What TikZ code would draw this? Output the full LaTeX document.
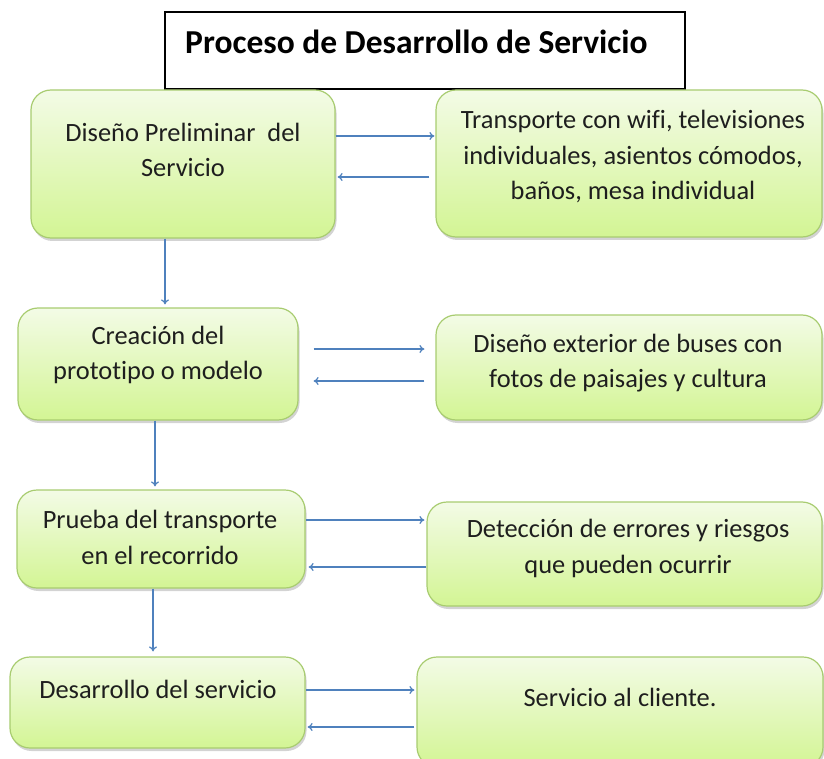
\documentclass[tikz,border=0pt]{standalone}
\usepackage{fontspec}
\setmainfont{Carlito}[Ligatures=NoCommon]
\usetikzlibrary{shadows,arrows.meta}
\definecolor{boxtop}{RGB}{243,251,230}
\definecolor{boxbot}{RGB}{211,245,148}
\definecolor{boxline}{RGB}{168,204,112}
\definecolor{arrblue}{RGB}{79,129,189}
\definecolor{txt}{RGB}{30,30,30}
\tikzset{
  gbox/.style={rectangle, rounded corners=20pt, draw=boxline, line width=1.2pt,
    top color=boxtop, bottom color=boxbot,
    drop shadow={shadow xshift=1.5pt, shadow yshift=-3pt, opacity=0.35},
    inner sep=0pt},
  btext/.style={align=center, text=txt, font=\fontsize{26.4}{35.5}\selectfont, inner sep=0pt},
  arr/.style={draw=arrblue, line width=1.2pt, -{To[length=5pt,width=8pt]}},
}
\begin{document}
\begin{tikzpicture}[x=1pt,y=-1pt]
\useasboundingbox (0,0) rectangle (824,759);
% title
\node[draw=black, line width=1.2pt, minimum width=520pt, minimum height=77pt, inner sep=0pt] (title) at (425,50.5) {};
\node[font=\bfseries\fontsize{33.5}{38}\selectfont, text=black, inner sep=0pt] (titletext) at (416.5,42) {Proceso de Desarrollo de Servicio};
% boxes
\node[gbox, minimum width=304pt, minimum height=148pt] (b1) at (183,164) {};
\node[gbox, minimum width=386pt, minimum height=147pt] (b2) at (629,163.5) {};
\node[gbox, minimum width=280pt, minimum height=112pt] (b3) at (158,364) {};
\node[gbox, minimum width=386pt, minimum height=105pt] (b4) at (629,367.5) {};
\node[gbox, minimum width=288pt, minimum height=98pt] (b5) at (161,539) {};
\node[gbox, minimum width=395pt, minimum height=104pt] (b6) at (624.5,554) {};
\node[gbox, minimum width=295pt, minimum height=91pt] (b7) at (157.5,702.5) {};
\node[gbox, minimum width=406pt, minimum height=110pt] (b8) at (620,712) {};
% texts
\node[btext] (t1) at (183,150) {Diseño Preliminar\ \ del\\Servicio};
\node[btext] (t2) at (633,157) {Transporte con wifi, televisiones\\individuales, asientos cómodos,\\baños, mesa individual};
\node[btext] (t3) at (158,355) {Creación del\\prototipo o modelo};
\node[btext] (t4) at (628,363) {Diseño exterior de buses con\\fotos de paisajes y cultura};
\node[btext] (t5) at (160,537.5) {Prueba del transporte\\en el recorrido};
\node[btext] (t6) at (628,548.5) {Detección de errores y riesgos\\que pueden ocurrir};
\node[btext] (t7) at (158,689) {Desarrollo del servicio};
\node[btext] (t8) at (620,697) {Servicio al cliente.};
% vertical connectors
\coordinate (v1) at (165,0);
\coordinate (v2) at (155,0);
\coordinate (v3) at (153,0);
\draw[arr, shorten >=3pt] (v1 |- b1.south) -- (v1 |- b3.north);
\draw[arr, shorten >=3pt] (v2 |- b3.south) -- (v2 |- b5.north);
\draw[arr, shorten >=5pt] (v3 |- b5.south) -- (v3 |- b7.north);
% horizontal connectors
\draw[arr, shorten >=1pt] (b1.east |- 0,136) -- (b2.west |- 0,136);
\draw[arr, shorten <=6pt, shorten >=2pt] (b2.west |- 0,177) -- (b1.east |- 0,177);
\draw[arr, shorten <=15pt, shorten >=11pt] (b3.east |- 0,349) -- (b4.west |- 0,349);
\draw[arr, shorten <=11pt, shorten >=15pt] (b4.west |- 0,381) -- (b3.east |- 0,381);
\draw[arr, shorten >=2pt] (b5.east |- 0,520) -- (b6.west |- 0,520);
\draw[arr, shorten >=3pt] (b6.west |- 0,567) -- (b5.east |- 0,567);
\draw[arr, shorten >=2pt] (b7.east |- 0,690) -- (b8.west |- 0,690);
\draw[arr, shorten <=2pt, shorten >=2pt] (b8.west |- 0,727) -- (b7.east |- 0,727);
\end{tikzpicture}
\end{document}
